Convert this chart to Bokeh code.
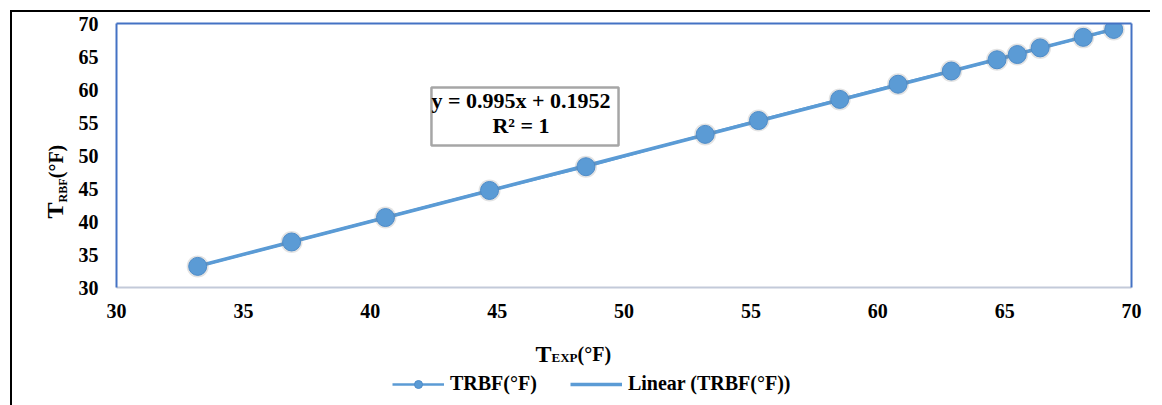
import math
from bokeh.plotting import figure
from bokeh.layouts import column, row
from bokeh.models import Range1d, LinearAxis, FixedTicker, Label, Legend, LegendItem
from bokeh.core.properties import value
from bokeh.embed import file_html
from bokeh.resources import INLINE

# ---- data ----
x_exp = [33.2, 36.9, 40.6, 44.7, 48.5, 53.2, 55.3, 58.5, 60.8, 62.9, 64.7, 65.5, 66.4, 68.1, 69.3]
t_rbf = [33.2, 36.9, 40.6, 44.7, 48.3, 53.2, 55.3, 58.5, 60.8, 62.8, 64.5, 65.3, 66.3, 67.9, 69.1]
x_ticks = [30, 35, 40, 45, 50, 55, 60, 65, 70]
y_ticks = [30, 35, 40, 45, 50, 55, 60, 65, 70]
slope = 0.995
intercept = 0.1952
r_squared = 1
series_name = "TRBF(°F)"
trend_name = "Linear (TRBF(°F))"

# trendline from the fitted equation over the data range
trend_x = [min(x_exp), max(x_exp)]
trend_y = [slope * v + intercept for v in trend_x]

FONT = "Liberation Serif"
BLUE = "#5B9BD5"
FRAME_BLUE = "#4472C4"

MAIN_H = 318
BORDER_TOP, BORDER_BOTTOM = 11, 43


def blank_fig(w, h, y0=0, y1=None, top=0, bottom=0):
    f = figure(width=w, height=h, output_backend="svg", toolbar_location=None,
               x_range=Range1d(0, w), y_range=Range1d(y0, h if y1 is None else y1),
               x_axis_type=None, y_axis_type=None, min_border=0,
               min_border_top=top, min_border_bottom=bottom)
    f.outline_line_color = None
    f.grid.visible = False
    f.background_fill_color = "white"
    f.border_fill_color = "white"
    return f


def txt(fig, text, x, y, size, angle=0.0, align="left", baseline="alphabetic"):
    fig.text(x=[x], y=[y], text=[text], angle=angle,
             text_font=value(FONT), text_font_size=size, text_font_style="bold",
             text_color="black", text_align=align, text_baseline=baseline)


# ---- main chart ----
p = figure(width=1080, height=MAIN_H, output_backend="svg", toolbar_location=None,
           x_range=Range1d(30, 70), y_range=Range1d(30, 70),
           min_border_left=46, min_border_right=19, min_border_top=BORDER_TOP,
           min_border_bottom=BORDER_BOTTOM)
p.outline_line_color = None
p.grid.visible = False
p.background_fill_color = "white"
p.border_fill_color = "white"

for ax, ticks in ((p.xaxis, x_ticks), (p.yaxis, y_ticks)):
    ax.ticker = FixedTicker(ticks=ticks)
    ax.major_tick_line_color = None
    ax.minor_tick_line_color = None
    ax.major_tick_out = 0
    ax.major_tick_in = 0
    ax.major_label_text_font = FONT
    ax.major_label_text_font_size = "20px"
    ax.major_label_text_font_style = "bold"
    ax.major_label_text_color = "black"
    ax.axis_line_width = 2

p.xaxis.axis_line_color = "#C3CAD9"
p.yaxis.axis_line_color = FRAME_BLUE
p.xaxis.major_label_standoff = 16
p.yaxis.major_label_standoff = 18

for side in ("above", "right"):
    extra = LinearAxis(ticker=FixedTicker(ticks=[]), axis_line_color=FRAME_BLUE,
                       axis_line_width=2, major_tick_line_color=None,
                       minor_tick_line_color=None, major_tick_out=0,
                       major_label_standoff=0, major_label_text_font_size="0px")
    p.add_layout(extra, side)

trend = p.line(trend_x, trend_y, line_color=BLUE, line_width=3.5)
series_line = p.line(x_exp, t_rbf, line_color=BLUE, line_width=2.5)
p.scatter(x_exp, t_rbf, size=22, fill_color="#808080", fill_alpha=0.22, line_color=None)
pts = p.scatter(x_exp, t_rbf, size=18, fill_color=BLUE, line_color="#4E8CC9", line_width=1)

eq = Label(x=408.5, y=200, x_units="screen", y_units="screen",
           text=f"y = {slope}x + {intercept}\nR² = {r_squared}",
           text_font=FONT, text_font_size="22px", text_font_style="bold",
           text_color="black", text_align="center", text_baseline="top",
           text_line_height=1.0,
           border_line_color="#A6A6A6", border_line_width=2.5,
           background_fill_color="white", padding=(0, 8, 0, 8))
p.add_layout(eq)

# ---- y axis title panel: frame aligned with the chart frame,
#      data unit = px measured from the panel's bottom edge ----
left = blank_fig(58, MAIN_H, y0=BORDER_BOTTOM, y1=MAIN_H - BORDER_TOP,
                 top=BORDER_TOP, bottom=BORDER_BOTTOM)
txt(left, "T", 42, 120, "24px", math.pi / 2, "center", "middle")
txt(left, "RBF", 50, 140, "12px", math.pi / 2, "center", "middle")
txt(left, "(°F)", 43, 169, "20px", math.pi / 2, "center", "middle")

# ---- x axis title + legend panel (1 data unit = 1 px) ----
bottom = blank_fig(1138, 75)
txt(bottom, "T", 523, 52, "24px")
txt(bottom, "EXP", 539, 48, "13px")
txt(bottom, "(°F)", 565, 52, "20px")

# legend swatches styled like the chart's renderers (NaN point: nothing drawn)
nan = [math.nan]
lg_line = bottom.line(nan, nan, line_color=BLUE, line_width=2.5)
lg_pts = bottom.scatter(nan, nan, size=10, fill_color=BLUE, line_color="#4E8CC9")
lg_trend = bottom.line(nan, nan, line_color=BLUE, line_width=3.5)
legend = Legend(items=[LegendItem(label=series_name, renderers=[lg_line, lg_pts]),
                       LegendItem(label=trend_name, renderers=[lg_trend])],
                orientation="horizontal", location=(380, 10),
                glyph_width=52, glyph_height=20, label_standoff=6, spacing=33,
                padding=0, margin=0, border_line_color=None, background_fill_alpha=0,
                label_text_font=FONT, label_text_font_size="20px",
                label_text_font_style="bold", label_text_color="black")
bottom.add_layout(legend)

layout = column(row(left, p), bottom,
                styles={"margin-left": "10px", "margin-top": "10px",
                        "border-left": "2px solid black",
                        "border-top": "2px solid black"})

open("out.html", "w").write(file_html(layout, INLINE))
